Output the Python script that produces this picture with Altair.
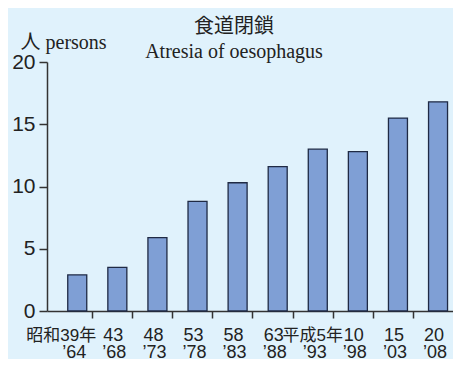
import altair as alt
import pandas as pd
import numpy as np

labels1 = ["昭和39年", "43", "48", "53", "58", "63", "平成5年", "10", "15", "20"]
labels2 = ["’64", "’68", "’73", "’78", "’83", "’88", "’93", "’98", "’03", "’08"]
values = [2.9, 3.5, 5.9, 8.8, 10.3, 11.6, 13.0, 12.8, 15.5, 16.8]
y_ticks = [0, 5, 10, 15, 20]
x_ticks = [1, 2, 3, 4, 5, 6, 7, 8, 9]

df = pd.DataFrame({
    "pos": np.arange(len(values)) + 0.63,
    "value": values,
    "l1": labels1,
    "l2": labels2,
})

BG = "#E0F2FC"
AX = "#333333"
TXT = "#222222"
W, H = 406, 249
XDOM = [0, 406 / 41.1]

xs = alt.Scale(domain=XDOM, nice=False, zero=False)
ys = alt.Scale(domain=[0, 20], nice=False)

bars = alt.Chart(df).mark_bar(
    size=19, fill="#7F9FD5", stroke="#1F2A44", strokeWidth=1.3
).encode(
    x=alt.X("pos:Q", scale=xs, axis=alt.Axis(
        values=x_ticks, labels=False, title=None, grid=False,
        tickSize=7, tickColor=AX, domainColor=AX, domainWidth=1.5, tickWidth=1.5)),
    y=alt.Y("value:Q", scale=ys, axis=alt.Axis(
        values=y_ticks, title="人 persons", grid=False, tickSize=8,
        tickColor=AX, domainColor=AX, domainWidth=1.5, tickWidth=1.5,
        labelFont="Liberation Sans", labelFontSize=21, labelColor=TXT,
        labelPadding=4,
        titleAngle=0, titleAlign="left", titleBaseline="alphabetic",
        titleX=-27, titleY=-14, titleFont="Liberation Serif, Noto Sans CJK JP",
        titleFontSize=20, titleFontWeight="normal", titleColor=TXT)),
)

lab_font = "Liberation Sans, Noto Sans CJK JP"


def label_layer(filt, dx, size):
    return alt.Chart(df).transform_filter(filt).mark_text(
        font=lab_font, fontSize=size, align="center", baseline="alphabetic",
        dx=dx, dy=30, color=TXT
    ).encode(x=alt.X("pos:Q", scale=xs), y=alt.datum(0), text="l1:N")


nums = label_layer((alt.datum.l1 != "昭和39年") & (alt.datum.l1 != "平成5年"), -4, 18)
era1 = label_layer(alt.datum.l1 == "昭和39年", -16, 17)
era2 = label_layer(alt.datum.l1 == "平成5年", -5, 17)

line2 = alt.Chart(df).mark_text(
    font=lab_font, fontSize=18, align="right", baseline="alphabetic",
    dx=9, dy=47, color=TXT
).encode(x=alt.X("pos:Q", scale=xs), y=alt.datum(0), text="l2:N")

chart = alt.layer(bars, nums, era1, era2, line2).properties(
    width=W, height=H,
    autosize=alt.AutoSizeParams(type="none"),
    padding={"left": 39, "top": 54, "right": 0, "bottom": 48},
    title=alt.Title(
        "食道閉鎖", subtitle="Atresia of oesophagus",
        anchor="middle", dx=-16, offset=-30, frame="group",
        font="Noto Sans CJK JP", fontSize=20, fontWeight="normal", color=TXT,
        subtitleFont="Liberation Serif", subtitleFontSize=20, subtitleColor=TXT,
        subtitlePadding=5,
    ),
).configure(background=BG).configure_view(stroke=None)

chart.save("out.html", embed_options={"renderer": "svg", "actions": False})
